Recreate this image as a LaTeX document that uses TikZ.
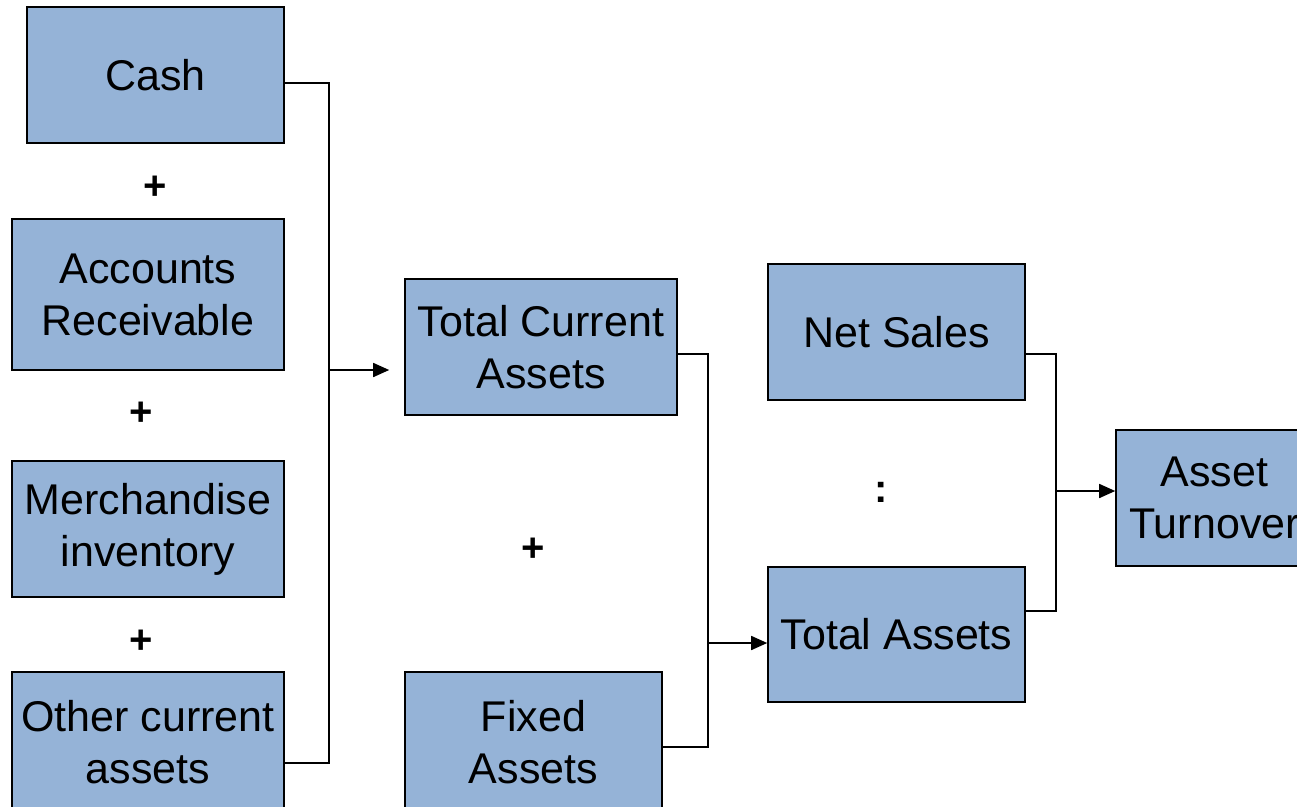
\documentclass[tikz,border=0pt]{standalone}
\usepackage{fontspec}
\setmainfont{Liberation Sans}
\usetikzlibrary{arrows.meta,calc}
\definecolor{boxfill}{RGB}{149,179,215}
\tikzset{
  box/.style={draw=black,line width=1.6pt,fill=boxfill,rectangle,inner sep=0pt,align=center,
    font=\fontsize{43}{52}\selectfont},
  conn/.style={draw=black,line width=1.6pt},
  arr/.style={conn,-{Triangle[length=16pt,width=14pt]}},
  sym/.style={font=\fontsize{40}{48}\selectfont\bfseries,inner sep=0pt}
}
\begin{document}
\begin{tikzpicture}[x=1pt,y=-1pt]
\useasboundingbox (0,0) rectangle (1297,806);
\clip (0,0) rectangle (1297,806);
% boxes
\node[box,minimum width=257pt,minimum height=136pt] (cash) at (155.5,75) {Cash};
\node[box,minimum width=272pt,minimum height=151pt] (ar) at (148,294.5) {Accounts\\Receivable};
\node[box,minimum width=272pt,minimum height=136pt] (mi) at (148,529) {Merchandise\\inventory};
\node[box,minimum width=272pt,minimum height=140pt] (oca) at (148,742) {Other current\\assets};
\node[box,minimum width=272pt,minimum height=136pt] (tca) at (541,347) {Total Current\\Assets};
\node[box,minimum width=257pt,minimum height=140pt] (fa) at (533.5,742) {Fixed\\Assets};
\node[box,minimum width=257pt,minimum height=136pt] (ns) at (896.5,332) {Net Sales};
\node[box,minimum width=257pt,minimum height=135pt] (ta) at (896.5,634.5) {Total Assets};
\node[box,minimum width=197pt,minimum height=136pt] (at) at (1214.5,498) {Asset\\Turnover};
% symbols
\node[sym] (p1) at (155,188) {+};
\node[sym] (p2) at (141,414) {+};
\node[sym] (p3) at (141,642) {+};
\node[sym] (p4) at (533,550) {+};
\node[sym] (colon) at (881,492) {:};
% connectors
\coordinate (b1) at (329,370);
\coordinate (b2) at (708,643);
\coordinate (b3) at (1056,491);
\draw[conn] ([yshift=-8pt]cash.east) -| (b1) |- ([yshift=-21pt]oca.east);
\draw[arr,shorten >=15pt] (b1) -- (b1 -| tca.west);
\draw[conn] ([yshift=-7pt]tca.east) -| (b2) |- ([yshift=-5pt]fa.east);
\draw[arr] (b2) -- (b2 -| ta.west);
\draw[conn] ([yshift=-22pt]ns.east) -| (b3) |- ([yshift=23.5pt]ta.east);
\draw[arr] (b3) -- (b3 -| at.west);
\end{tikzpicture}
\end{document}
